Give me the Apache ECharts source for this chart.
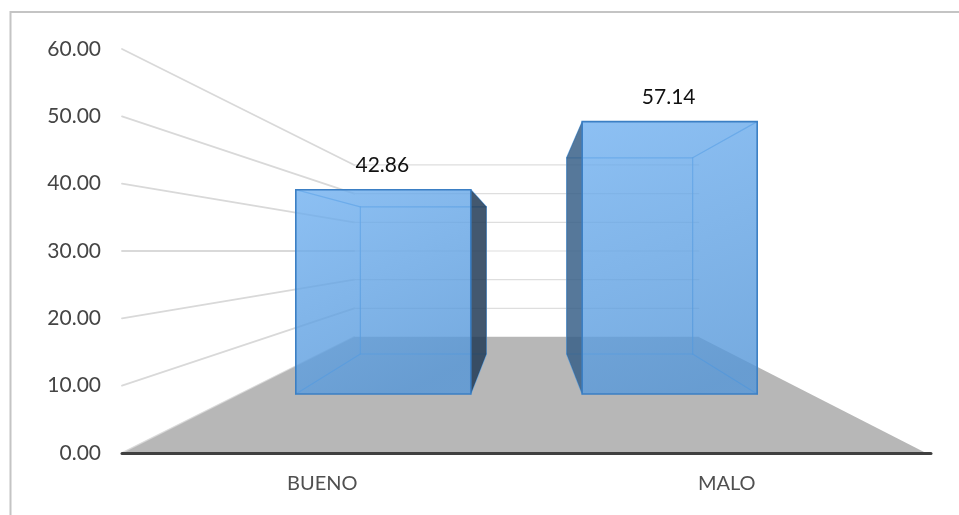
<!DOCTYPE html>
<html><head><meta charset="utf-8">
<style>html,body{margin:0;padding:0;background:#fff}#c{width:959px;height:515px}</style>
<script src="https://cdn.jsdelivr.net/npm/echarts@6/dist/echarts.min.js"></script>
</head><body><div id="c"></div>
<script>
const categories = ["BUENO", "MALO"];
const values = [42.86, 57.14];
const yTicks = [0, 10, 20, 30, 40, 50, 60];

// perspective depth factors: front plane = 1, vanishing point = 0
const BAR_FRONT = 0.708, BAR_BACK = 0.51, WALL = 0.426;
const BAR_SHARE = 0.611;
const FONT = "Lato, Carlito, sans-serif";

function camera(params, api) {
  const cs = params.coordSys;
  const vx = cs.x + cs.width / 2, vy = api.coord([0, 30])[1];
  return { cs, p: (x, y, s) => [vx + s * (x - vx), vy + s * (y - vy)] };
}
const poly = (points, fill, z2) => ({ type: 'polygon', z2, shape: { points }, style: { fill } });
const seg = (a, b, stroke, lineWidth, z2) => ({ type: 'line', z2, shape: { x1: a[0], y1: a[1], x2: b[0], y2: b[1] }, style: { stroke, lineWidth, fill: null, lineCap: 'round' } });

function renderWall(params, api) {
  const { cs, p } = camera(params, api);
  const y = api.coord([0, api.value(1)])[1];
  const L = cs.x, R = cs.x + cs.width;
  const a = p(L, y, 1), b = p(L, y, WALL), c = p(R, y, WALL);
  return { type: 'group', children: [seg(a, b, '#d9d9d9', 1.8, 1), seg(b, c, '#dedede', 1.2, 1)] };
}
function renderFloor(params, api) {
  const { cs, p } = camera(params, api);
  const y = api.coord([0, 0])[1];
  const L = cs.x + 1, R = cs.x + cs.width - 5;
  return poly([[L, y], [R, y], p(cs.x + cs.width, y, WALL), p(cs.x, y, WALL)], '#b7b7b7', 2);
}
function renderBar(params, api) {
  const { p } = camera(params, api);
  const idx = api.value(0), val = api.value(1);
  const c = api.coord([idx, val]), y0 = api.coord([idx, 0])[1];
  const w = api.size([1, 0])[0] * BAR_SHARE;
  const xl = c[0] - w / 2, xr = c[0] + w / 2, yt = c[1];
  const f = (x, y) => p(x, y, BAR_FRONT), b = (x, y) => p(x, y, BAR_BACK);
  const FTL = f(xl, yt), FTR = f(xr, yt), FBL = f(xl, y0), FBR = f(xr, y0);
  const BTL = b(xl, yt), BTR = b(xr, yt), BBL = b(xl, y0), BBR = b(xr, y0);
  const inner = 'rgba(86,156,222,0.85)', edge = '#3b7fc4';
  const kids = [];
  kids.push(seg(BTL, BTR, inner, 1.2, 3), seg(BBL, BBR, inner, 1.2, 3), seg(BTL, BBL, inner, 1.2, 3), seg(BTR, BBR, inner, 1.2, 3));
  kids.push(seg(FTL, BTL, inner, 1.2, 3), seg(FTR, BTR, inner, 1.2, 3), seg(FBL, BBL, inner, 1.2, 3), seg(FBR, BBR, inner, 1.2, 3));
  if (BTR[0] > FTR[0]) kids.push(poly([FTR, BTR, BBR, FBR], 'rgba(34,59,86,0.85)', 4));
  if (BTL[0] < FTL[0]) kids.push(poly([FTL, BTL, BBL, FBL], 'rgba(56,96,136,0.85)', 4));
  kids.push({
    type: 'polygon', z2: 5, shape: { points: [FTL, FTR, FBR, FBL] },
    style: {
      fill: { type: 'linear', x: 0, y: 0, x2: 0.6, y2: 1, colorStops: [
        { offset: 0, color: 'rgba(112,176,240,0.8)' },
        { offset: 1, color: 'rgba(84,150,216,0.8)' }] },
      stroke: edge, lineWidth: 1.6, lineJoin: 'miter'
    }
  });
  kids.push({
    type: 'text', z2: 6,
    style: { x: (FTL[0] + FTR[0]) / 2 - 1, y: FTL[1] - 24, text: val.toFixed(2), align: 'center', verticalAlign: 'middle', font: '21px ' + FONT, fill: '#111' }
  });
  return { type: 'group', children: kids };
}

const chart = echarts.init(document.getElementById('c'), null, { renderer: 'canvas' });
chart.setOption({
  animation: false,
  backgroundColor: '#fff',
  graphic: [{ type: 'rect', z: -1, shape: { x: 10.5, y: 12, width: 970, height: 530 }, style: { fill: null, stroke: '#c4c4c4', lineWidth: 2 } }],
  grid: { left: 122, right: 28, top: 49, bottom: 62 },
  xAxis: {
    type: 'category', data: categories, z: 5,
    axisTick: { show: false },
    axisLine: { lineStyle: { color: '#404040', width: 3, cap: 'round' } },
    axisLabel: { color: '#505050', fontFamily: FONT, fontSize: 20, margin: 21, padding: [0, 4, 0, 0] }
  },
  yAxis: {
    type: 'value', min: 0, max: 60, interval: 10,
    splitLine: { show: false }, axisLine: { show: false }, axisTick: { show: false },
    axisLabel: { color: '#454545', fontFamily: FONT, fontSize: 21, margin: 21, padding: [7, 0, 0, 0], formatter: v => v.toFixed(2) }
  },
  series: [
    { type: 'custom', name: 'walls', z: 1, silent: true, clip: false, renderItem: renderWall, data: yTicks.map(t => [0, t]) },
    { type: 'custom', name: 'floor', z: 2, silent: true, clip: false, renderItem: renderFloor, data: [[0, 0]] },
    { type: 'custom', name: 'bars', z: 3, clip: false, renderItem: renderBar, data: values.map((v, i) => [i, v]) }
  ]
});
</script></body></html>
